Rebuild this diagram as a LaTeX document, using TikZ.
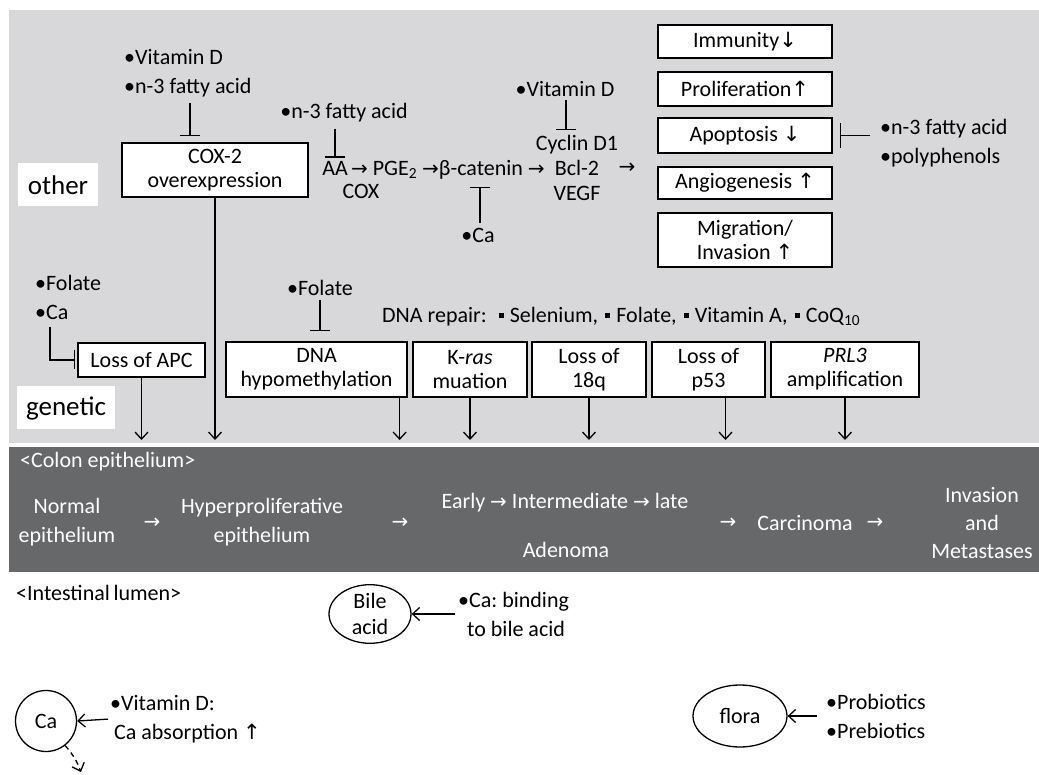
\documentclass[tikz,border=0pt]{standalone}
\usepackage{fontspec}
\setmainfont{Carlito}
\newfontfamily\arrowfont{DejaVu Sans}
\usetikzlibrary{arrows.meta,positioning,shapes.geometric}
\definecolor{bglight}{RGB}{216,216,218}
\definecolor{bandgray}{RGB}{103,104,106}
\newcommand{\rarr}{{\arrowfont\fontsize{20}{20}\selectfont →}}
\newcommand{\uparr}{{\arrowfont\fontsize{21}{21}\selectfont ↑}}
\newcommand{\dnarr}{{\arrowfont\fontsize{21}{21}\selectfont ↓}}
\newcommand{\sqbul}{\hspace{2pt}\rule[0.2em]{0.24em}{0.24em}\hspace{1pt}}
\frenchspacing

\begin{document}
\begin{tikzpicture}[x=1pt,y=-1pt,
    font=\fontsize{22}{24}\selectfont,
    >={Straight Barb[length=7pt,width=13pt]},
    box/.style={draw,line width=1.3pt,fill=white,align=center,inner sep=0pt},
    bul/.style={align=left,inner sep=0pt,font=\fontsize{22}{29}\selectfont},
    plain/.style={align=center,inner sep=0pt}]
\useasboundingbox (0,0) rectangle (1039,775);
\fill[bglight] (9,10) rectangle (1039,443);
\node (band)[fill=bandgray,inner sep=0pt,minimum width=1030pt,minimum height=125pt,anchor=north west] at (9,447) {};

\begin{scope}[every node/.style={fill=white,inner sep=0pt,minimum height=43pt,font=\fontsize{27}{27}\selectfont}]
    \node (other)[minimum width=80pt] at (58,185) {other};
    \node (genetic)[minimum width=98pt] at (66,408) {genetic};
\end{scope}

\begin{scope}[every node/.style={box}]
    \node (cox)[minimum width=186pt,minimum height=54pt] at (215,170) {COX-2\\overexpression};
    \node (imm)[minimum width=174pt,minimum height=33pt] at (745,41.5) {Immunity\dnarr};
    \node (pro)[minimum width=174pt,minimum height=34pt] at (745,89) {Proliferation\uparr};
    \node (apo)[minimum width=174pt,minimum height=35pt] at (745,135.5) {Apoptosis \dnarr};
    \node (ang)[minimum width=174pt,minimum height=32pt] at (745,183) {Angiogenesis \uparr};
    \node (mig)[minimum width=174pt,minimum height=54pt] at (745,240) {Migration/\\Invasion \uparr};
    \node (apc)[minimum width=127pt,minimum height=34pt] at (141.5,360) {Loss of APC};
    \node (dna)[minimum width=181pt,minimum height=55pt] at (316.5,369.5) {DNA\\hypomethylation};
    \node (kras)[minimum width=114pt,minimum height=55pt] at (470,369.5) {K-\textit{ras}\\muation};
    \node (q18)[minimum width=114pt,minimum height=55pt] at (589,369.5) {Loss of\\18q};
    \node (p53)[minimum width=113pt,minimum height=55pt] at (708.5,369.5) {Loss of\\p53};
    \node (prl)[minimum width=148pt,minimum height=55pt] at (845,369.5) {\textit{PRL3}\\amplification};
\end{scope}

\node (vitdA)[bul,anchor=west] at (124,73) {•Vitamin D\\•n-3 fatty acid};
\node (n3B)[bul] at (344,113) {•n-3 fatty acid};
\node (aa)[plain] at (335,168) {AA};
\node (chain)[plain,anchor=base west] at ([xshift=3pt]aa.base east) {\rarr{} PGE\textsubscript{2} \rarr{}β-catenin \rarr};
\node (coxlab)[plain] at (361,191) {COX};
\node (caB)[bul] at (478,235) {•Ca};
\node (vitdC)[bul] at (565,89) {•Vitamin D};
\node (cyc)[plain,font=\fontsize{22}{25}\selectfont] at (577,168) {Cyclin D1\\Bcl-2\\VEGF};
\node (ra4)[plain] at (627,168) {\rarr};
\node (poly)[bul,anchor=west] at (880,143) {•n-3 fatty acid\\•polyphenols};
\node (folA)[bul,anchor=west] at (35,297) {•Folate\\•Ca};
\node (folB)[bul] at (320,288) {•Folate};
\node (rep)[plain,anchor=west] at (382,317) {DNA repair:\ \ \sqbul{} Selenium, \sqbul{} Folate, \sqbul{} Vitamin A, \sqbul{} CoQ\textsubscript{10}};

\begin{scope}[every node/.style={text=white,align=center,inner sep=0pt,font=\fontsize{22}{29}\selectfont}]
    \node (colon)[anchor=west] at (20,462) {<Colon epithelium>};
    \node (normal) at (67,522) {Normal\\epithelium};
    \node (ra5) at (152,523) {\rarr};
    \node (hyper) at (262,522) {Hyperproliferative\\epithelium};
    \node (ra6) at (400,523) {\rarr};
    \node (early) at (565,503) {Early \rarr{} Intermediate \rarr{} late};
    \node (adenoma) at (566,550) {Adenoma};
    \node (ra7) at (728,523) {\rarr};
    \node (carc) at (805,523) {Carcinoma};
    \node (ra8) at (875,523) {\rarr};
    \node (inv)[font=\fontsize{22}{28}\selectfont] at (982,523) {Invasion\\and\\Metastases};
\end{scope}

\node (lumen)[plain,anchor=west] at (16,593) {<Intestinal\,lumen>};
\node (bile)[ellipse,draw,line width=1.3pt,minimum width=82pt,minimum height=57pt,inner sep=0pt,align=center,font=\fontsize{22}{26}\selectfont] at (370,614) {Bile\\acid};
\node (cabind)[bul,anchor=west] at (458,614) {•Ca: binding\\\hspace*{9pt}to bile acid};
\node (ca)[circle,draw,line width=1.3pt,minimum size=61pt,inner sep=0pt] at (46,721) {Ca};
\node (vitdD)[bul,anchor=west] at (110,719) {•Vitamin D:\\\hspace*{4pt}Ca absorption \uparr};
\node (flora)[ellipse,draw,line width=1.3pt,minimum width=94pt,minimum height=62pt,inner sep=0pt] at (740,716) {flora};
\node (biot)[bul,anchor=west] at (826,716) {•Probiotics\\•Prebiotics};

\coordinate (bcat) at (480,187);
\coordinate (cycl) at (566,130);
\coordinate (coxin) at (190,136);
\coordinate (dnaout) at ([xshift=-8pt]dna.south east);
\coordinate (p53out) at ([xshift=17pt]p53.south);
\coordinate (caout) at (81,772);

\begin{scope}[every edge/.style={draw,line width=1.3pt},
              inhib/.style={-{Bar[width=20pt]}},
              arr/.style={->}]
    \path (vitdA.south -| coxin) edge[inhib,shorten <=6pt] (coxin);
    \path (aa |- n3B.south) edge[inhib,shorten <=6pt,shorten >=3pt] (aa.north);
    \path (caB.north -| bcat) edge[inhib,shorten <=5pt] (bcat);
    \path (vitdC.south -| cycl) edge[inhib,shorten <=3pt] (cycl);
    \path (poly.west |- apo.east) edge[-{Bar[width=25pt]},shorten <=10pt,shorten >=7pt] (apo.east);
    \draw[line width=1.3pt,-{Bar[width=19pt]},shorten <=8pt,shorten >=2pt] ([xshift=15pt]folA.south west) |- (apc.west);
    \path (folB.south) edge[inhib,shorten <=4pt,shorten >=10pt] (folB.south |- dna.north);
    \path (cox.south) edge[arr,shorten >=7pt] (cox.south |- band.north);
    \path (apc.south) edge[arr,shorten >=7pt] (apc.south |- band.north);
    \path (dnaout) edge[arr,shorten >=7pt] (dnaout |- band.north);
    \path (kras.south) edge[arr,shorten >=7pt] (kras.south |- band.north);
    \path (q18.south) edge[arr,shorten >=7pt] (q18.south |- band.north);
    \path (p53out) edge[arr,shorten >=7pt] (p53out |- band.north);
    \path (prl.south) edge[arr,shorten >=7pt] (prl.south |- band.north);
    \path (cabind.west) edge[arr,shorten <=3pt] (bile.east);
    \path (vitdD.west) edge[arr,shorten <=2pt] (ca.east);
    \path (biot.west) edge[arr,shorten <=9pt] (flora.east);
    \path (ca.-52) edge[arr,dash pattern=on 5pt off 4pt,bend left=10] (caout);
\end{scope}
\end{tikzpicture}
\end{document}
